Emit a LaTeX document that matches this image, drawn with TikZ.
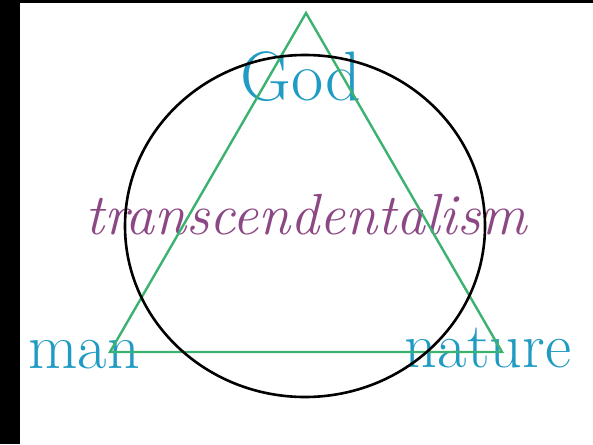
\documentclass[tikz,border=0pt]{standalone}
\usepackage{fontspec}
\definecolor{labelblue}{RGB}{32,155,195}
\definecolor{ismpurple}{RGB}{140,72,132}
\definecolor{trigreen}{RGB}{60,178,112}
\begin{document}
\begin{tikzpicture}[x=1pt,y=-1pt,
  word/.style={text=labelblue, anchor=base, inner sep=0pt, font=\fontsize{64}{64}\selectfont},
  ism/.style={text=ismpurple, anchor=base, inner sep=0pt, font=\fontsize{58}{58}\selectfont\itshape},
  side/.style={draw=trigreen, line width=2.4pt, line join=miter},
  ring/.style={draw=black, line width=2.6pt}]
\useasboundingbox (0,0) rectangle (593,444);
\fill[white] (0,0) rectangle (593,444);
\fill[black] (0,0) rectangle (20,444);
\fill[black] (0,0) rectangle (593,3);
% labels
\node[word, font=\fontsize{70}{70}\selectfont] (god) at (301,100) {God};
\node[word] (man) at (84,368) {man};
\node[word] (nature) at (488,367) {nature};
\node[ism] (ism) at (306,234) {transcendentalism};
% triangle and circle
\coordinate (apex) at (306,13);
\coordinate (left) at (110,352);
\coordinate (right) at (502,352);
\coordinate (mid) at (305,226);
\draw[side] (apex) -- (right) -- (left) -- cycle;
\draw[ring] (mid) ellipse [x radius=180, y radius=171];
\end{tikzpicture}
\end{document}
